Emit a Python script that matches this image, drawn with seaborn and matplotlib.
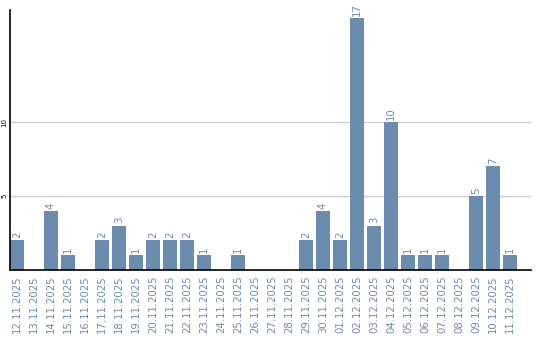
import matplotlib
matplotlib.use("Agg")
import matplotlib.pyplot as plt
import seaborn as sns
import pandas as pd

dates = ["12.11.2025", "13.11.2025", "14.11.2025", "15.11.2025", "16.11.2025",
         "17.11.2025", "18.11.2025", "19.11.2025", "20.11.2025", "21.11.2025",
         "22.11.2025", "23.11.2025", "24.11.2025", "25.11.2025", "26.11.2025",
         "27.11.2025", "28.11.2025", "29.11.2025", "30.11.2025", "01.12.2025",
         "02.12.2025", "03.12.2025", "04.12.2025", "05.12.2025", "06.12.2025",
         "07.12.2025", "08.12.2025", "09.12.2025", "10.12.2025", "11.12.2025"]
counts = [2, 0, 4, 1, 0, 2, 3, 1, 2, 2, 2, 1, 0, 1, 0,
          0, 0, 2, 4, 2, 17, 3, 10, 1, 1, 1, 0, 5, 7, 1]
yticks = [5, 10]

bar_color = "#6b8cae"
label_color = "#6b8cae"

sns.set_style("white")
plt.rcParams["font.family"] = ["DejaVu Sans"]

df = pd.DataFrame({"date": dates, "count": counts})

fig = plt.figure(figsize=(5.4, 3.4), dpi=100)
ax = fig.add_axes([10 / 540, 70 / 340, 521 / 540, 260 / 340])

sns.barplot(data=df, x="date", y="count", color=bar_color, width=0.82,
            saturation=1, ax=ax, zorder=3, linewidth=0, edgecolor="none")

for i, v in enumerate(counts):
    if v > 0:
        ax.text(i, v + 0.15, str(v), rotation=90, ha="center", va="bottom",
                fontsize=7.3, color=label_color)

ax.set_xlim(-0.41, 30.24)
ax.set_ylim(0, 17.57)
ax.set_yticks(yticks)
ax.set_yticklabels([str(t) for t in yticks], rotation=90, fontsize=5,
                   va="center", color="black")
ax.tick_params(axis="y", length=0, pad=2)
ax.tick_params(axis="x", length=0, pad=4)
ax.set_xticks(range(len(dates)))
ax.set_xticklabels(dates, rotation=90, fontsize=7.3, color=label_color)
ax.grid(axis="y", color="#cccccc", linewidth=1, zorder=0)
ax.set_xlabel("")
ax.set_ylabel("")
for s in ["top", "right"]:
    ax.spines[s].set_visible(False)
ax.spines["left"].set_color("black")
ax.spines["bottom"].set_color("black")
ax.spines["left"].set_linewidth(1.2)
ax.spines["bottom"].set_linewidth(1.2)
ax.spines["left"].set_zorder(5)
ax.spines["bottom"].set_zorder(5)

fig.savefig("out.png", dpi=100)
